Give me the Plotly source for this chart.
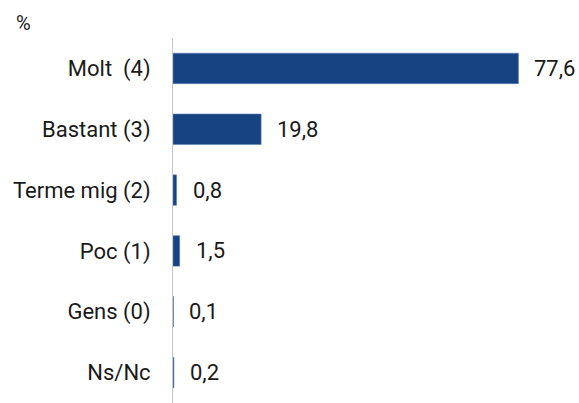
import plotly.graph_objects as go

# Response categories (top to bottom) and their shares in percent
categories = ["Molt\u00a0 (4)", "Bastant (3)", "Terme mig (2)", "Poc (1)", "Gens (0)", "Ns/Nc"]
values = [77.6, 19.8, 0.8, 1.5, 0.1, 0.2]

BAR_COLOR = "#174383"
FONT = "Roboto, sans-serif"
FS = 22

fig = go.Figure(
    go.Bar(
        x=values,
        y=categories,
        orientation="h",
        width=0.5,
        marker=dict(color=BAR_COLOR, line=dict(color="#5f7fb3", width=0.6)),
        hoverinfo="skip",
    )
)

# Value labels placed just to the right of each bar end
for cat, val in zip(categories, values):
    fig.add_annotation(
        x=val, y=cat, xref="x", yref="y",
        text=f"{val:.1f}".replace(".", ","),
        showarrow=False, xanchor="left", yanchor="middle", xshift=14,
        font=dict(family=FONT, size=FS, color="#1a1a1a"),
    )

# Unit marker in the top-left corner (paper coords relative to plot area)
fig.add_annotation(
    xref="paper", yref="paper",
    x=(14 - 173) / 406, y=1 + (38 - 9) / 365,
    text="%", showarrow=False, xanchor="left", yanchor="top",
    font=dict(family=FONT, size=20, color="#1a1a1a"),
)

fig.update_layout(
    width=579, height=403,
    margin=dict(l=173, r=0, t=38, b=0, pad=0, autoexpand=False),
    paper_bgcolor="white", plot_bgcolor="white",
    showlegend=False,
    font=dict(family=FONT, size=FS, color="#1a1a1a"),
    xaxis=dict(range=[0, 91.2], visible=False, fixedrange=True, automargin=False),
    yaxis=dict(
        autorange="reversed",
        showline=True, linecolor="#c8c8c8", linewidth=1,
        showgrid=False, zeroline=False,
        ticks="", ticklabelstandoff=17, automargin=False,
        tickfont=dict(family=FONT, size=FS, color="#1a1a1a"),
        fixedrange=True,
    ),
)

fig.write_html("out.html")
